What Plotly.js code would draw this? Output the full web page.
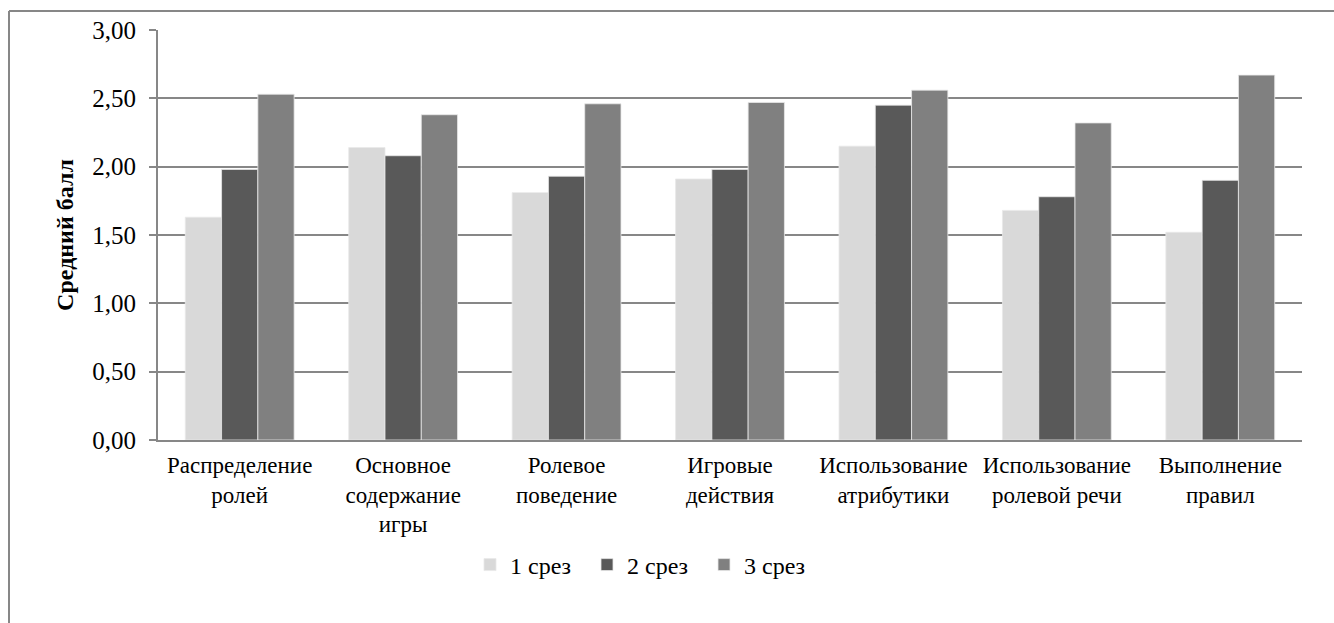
<!DOCTYPE html>
<html>
<head>
<meta charset="utf-8">
<script src="https://cdn.plot.ly/plotly-3.0.1.min.js"></script>
<style>
  html, body { margin: 0; padding: 0; background: #fff; }
  #chart { width: 1334px; height: 623px; }
  #chart svg text { font-family: "Liberation Serif", "Times New Roman", "DejaVu Serif", serif !important; }
</style>
</head>
<body>
<div id="chart"></div>
<script>
const categories = [
  "Распределение<br>ролей",
  "Основное<br>содержание<br>игры",
  "Ролевое<br>поведение",
  "Игровые<br>действия",
  "Использование<br>атрибутики",
  "Использование<br>ролевой речи",
  "Выполнение<br>правил"
];
const seriesNames = ["1 срез", "2 срез", "3 срез"];
const srez1 = [1.63, 2.14, 1.81, 1.91, 2.15, 1.68, 1.52];
const srez2 = [1.98, 2.08, 1.93, 1.98, 2.45, 1.78, 1.90];
const srez3 = [2.53, 2.38, 2.46, 2.47, 2.56, 2.32, 2.67];
const colors = ["#d9d9d9", "#595959", "#808080"];

const FONT = "Liberation Serif";
const series = [srez1, srez2, srez3];
const traces = series.map((vals, i) => ({
  type: "bar",
  name: seriesNames[i],
  x: categories,
  y: vals,
  marker: { color: colors[i], line: { color: "#e8e8e8", width: 0.8 } },
  hoverinfo: "x+y"
}));

const L = 158, R = 1302, T = 30, B = 440;
const W = R - L, H = B - T;
const px = x => (x - L) / W;
const py = y => (B - y) / H;

const layout = {
  width: 1334, height: 623,
  margin: { l: L, r: 1334 - R, t: T, b: 623 - B },
  paper_bgcolor: "#fff", plot_bgcolor: "#fff",
  separators: ", ",
  font: { family: FONT, color: "#000", size: 23 },
  barmode: "group",
  bargap: 0.334,
  bargroupgap: 0,
  showlegend: true,
  legend: {
    orientation: "h",
    x: px(470), y: py(565), xanchor: "left", yanchor: "middle",
    font: { family: FONT, size: 24, color: "#000" },
    traceorder: "normal",
    itemwidth: 30,
    entrywidth: 72,
    bgcolor: "rgba(0,0,0,0)"
  },
  xaxis: {
    type: "category",
    showline: true, linecolor: "#878787", linewidth: 2,
    ticks: "", showgrid: false,
    tickfont: { family: FONT, size: 23, color: "#000" },
    tickangle: 0,
    ticklabelstandoff: 3,
    fixedrange: true
  },
  yaxis: {
    range: [0, 3], dtick: 0.5, tick0: 0,
    tickformat: ".2f",
    showgrid: true, gridcolor: "#878787", gridwidth: 2,
    showline: true, linecolor: "#878787", linewidth: 2,
    ticks: "outside", ticklen: 7, tickcolor: "#878787", tickwidth: 2,
    tickfont: { family: FONT, size: 25, color: "#000" },
    ticklabelstandoff: 8,
    title: { text: "<b>Средний балл</b>", font: { family: FONT, size: 24, color: "#000" }, standoff: 12 },
    zeroline: false,
    fixedrange: true
  },
  shapes: [
    { type: "line", xref: "paper", yref: "paper", x0: px(9), x1: px(1340), y0: py(11), y1: py(11),
      line: { color: "#878787", width: 2 } },
    { type: "line", xref: "paper", yref: "paper", x0: px(9), x1: px(9), y0: py(11), y1: py(630),
      line: { color: "#878787", width: 2 } }
  ]
};

Plotly.newPlot("chart", traces, layout, { displayModeBar: false, staticPlot: true });
</script>
</body>
</html>
